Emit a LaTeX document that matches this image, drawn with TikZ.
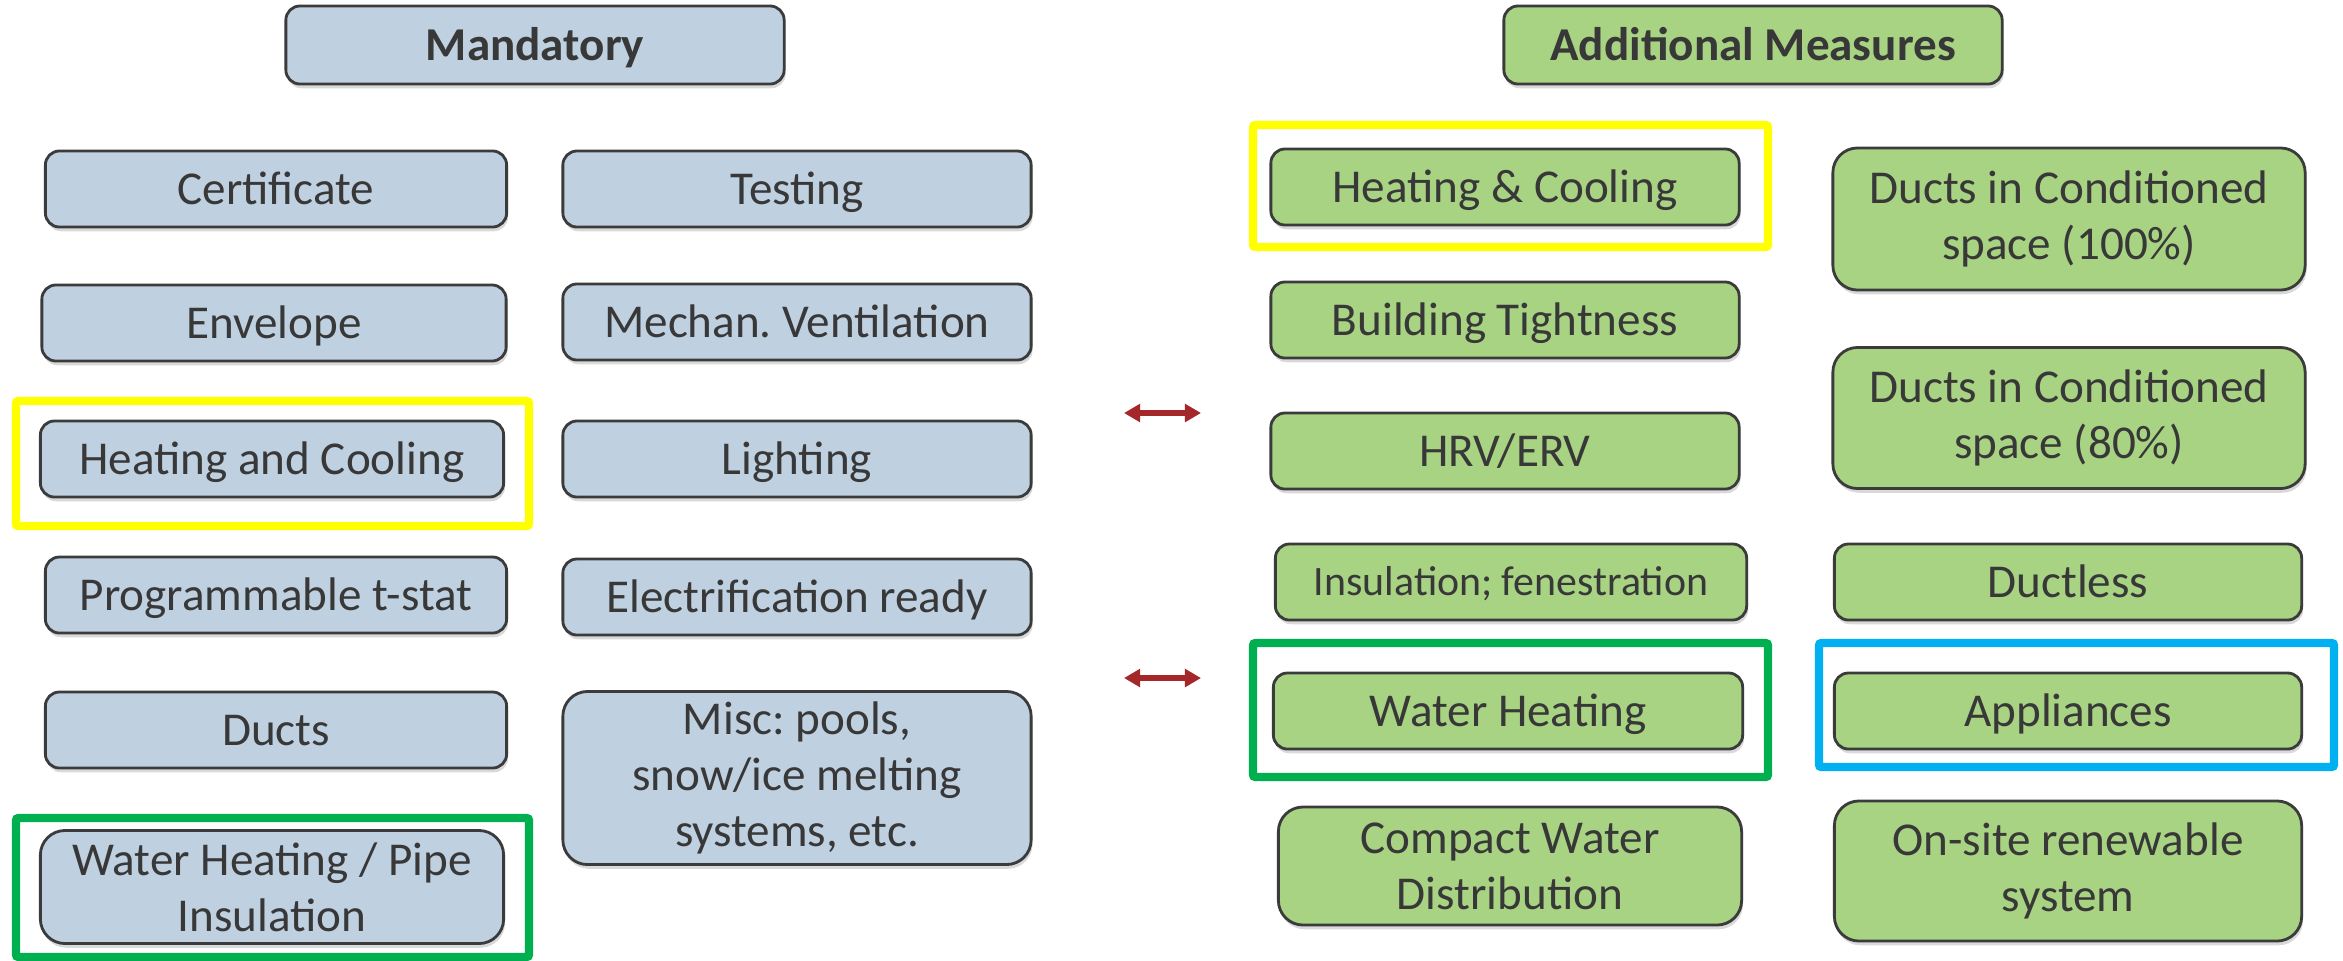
\documentclass[tikz,border=0pt]{standalone}
\usepackage{fontspec}
\setmainfont{Carlito}
\usetikzlibrary{arrows.meta, shadows, positioning}
\frenchspacing
\definecolor{mandfill}{HTML}{BFD0E1}
\definecolor{addfill}{HTML}{A8D383}
\definecolor{boxline}{HTML}{3B3B3B}
\definecolor{boxtext}{HTML}{383838}
\definecolor{hlyellow}{HTML}{FFFF00}
\definecolor{hlgreen}{HTML}{00B050}
\definecolor{hlblue}{HTML}{00B0F0}
\definecolor{arrred}{HTML}{A4282A}
\tikzset{
  box/.style={draw=boxline, line width=0.8pt, rounded corners=4pt, text=boxtext,
    inner sep=0pt, align=center, minimum height=0.76cm,
    font=\fontsize{13.4}{15.9}\selectfont,
    drop shadow={shadow xshift=0.4pt, shadow yshift=-1.2pt, opacity=0.3}},
  mand/.style={box, fill=mandfill},
  add/.style={box, fill=addfill},
  oneline/.style={text height=8.6pt, text depth=0pt},
  tallbox/.style={rounded corners=7pt},
  titlebox/.style={oneline, font=\fontsize{13.4}{15.9}\selectfont\bfseries, minimum width=4.98cm, minimum height=0.78cm},
  hlframe/.style={line width=2.3pt, rounded corners=0.6pt},
  linkarrow/.style={{Triangle[length=4.6pt,width=5pt]}-{Triangle[length=4.6pt,width=5pt]}, line width=1.6pt, draw=arrred}
}
\begin{document}
\begin{tikzpicture}[x=0.01cm, y=-0.01cm]
    \useasboundingbox (0,0) rectangle (2343,960);
    % headings
    \node [mand, titlebox](mandatory) at (535,45) {Mandatory};
    \node [add, titlebox](additional) at (1753,45) {Additional Measures};
    % mandatory, first column
    \node [mand, oneline, minimum width=4.61cm](certificate) at (276,189) {Certificate};
    \node [mand, oneline, minimum width=4.64cm](envelope) at (274,323) {Envelope};
    \node [mand, oneline, minimum width=4.63cm](heatcool) at (272,459) {Heating and Cooling};
    \node [mand, oneline, minimum width=4.61cm](tstat) at (276,595) {Programmable t-stat};
    \node [mand, oneline, minimum width=4.61cm](ducts) at (276,730) {Ducts};
    \node [mand, tallbox, minimum width=4.63cm, minimum height=1.13cm](waterpipe) at (272,887) {Water Heating / Pipe\\Insulation};
    % mandatory, second column
    \node [mand, oneline, minimum width=4.68cm](testing) at (797,189) {Testing};
    \node [mand, oneline, minimum width=4.68cm](mechvent) at (797,322) {Mechan. Ventilation};
    \node [mand, oneline, minimum width=4.68cm](lighting) at (797,459) {Lighting};
    \node [mand, oneline, minimum width=4.68cm](electric) at (797,597) {Electrification ready};
    \node [mand, tallbox, minimum width=4.68cm, minimum height=1.73cm](misc) at (797,778) {Misc: pools,\\snow/ice melting\\systems, etc.};
    % additional measures, first column
    \node [add, oneline, minimum width=4.68cm](addheat) at (1505,187) {Heating \& Cooling};
    \node [add, oneline, minimum width=4.68cm](tightness) at (1505,320) {Building Tightness};
    \node [add, oneline, minimum width=4.68cm](hrv) at (1505,451) {HRV/ERV};
    \node [add, oneline, text height=7.7pt, minimum width=4.71cm, font=\fontsize{11.9}{14}\selectfont](insul) at (1511,582) {Insulation; fenestration};
    \node [add, oneline, minimum width=4.69cm](addwater) at (1508,711) {Water Heating};
    \node [add, tallbox, minimum width=4.63cm, minimum height=1.18cm](compact) at (1510,866) {Compact Water\\Distribution};
    % additional measures, second column
    \node [add, tallbox, minimum width=4.72cm, minimum height=1.42cm](ducts100) at (2069,219) {Ducts in Conditioned\\space (100\%)};
    \node [add, tallbox, minimum width=4.72cm, minimum height=1.41cm](ducts80) at (2069,418) {Ducts in Conditioned\\space (80\%)};
    \node [add, oneline, minimum width=4.67cm](ductless) at (2068,582) {Ductless};
    \node [add, oneline, minimum width=4.67cm](appliances) at (2068,711) {Appliances};
    \node [add, tallbox, minimum width=4.67cm, minimum height=1.40cm](renewable) at (2068,871) {On-site renewable\\system};
    % highlight frames
    \draw [hlframe, hlyellow] (16,401) rectangle (529,526);
    \draw [hlframe, hlgreen] (16,818) rectangle (529,957);
    \draw [hlframe, hlyellow] (1253,125) rectangle (1768,247);
    \draw [hlframe, hlgreen] (1253,643) rectangle (1768,777);
    \draw [hlframe, hlblue] (1819,643) rectangle (2334,767);
    % links
    \coordinate (linkAw) at (1124,413);
    \coordinate (linkAe) at (1201,413);
    \coordinate (linkBw) at (1124,678);
    \coordinate (linkBe) at (1201,678);
    \draw [linkarrow] (linkAw) -- (linkAe);
    \draw [linkarrow] (linkBw) -- (linkBe);
\end{tikzpicture}
\end{document}
